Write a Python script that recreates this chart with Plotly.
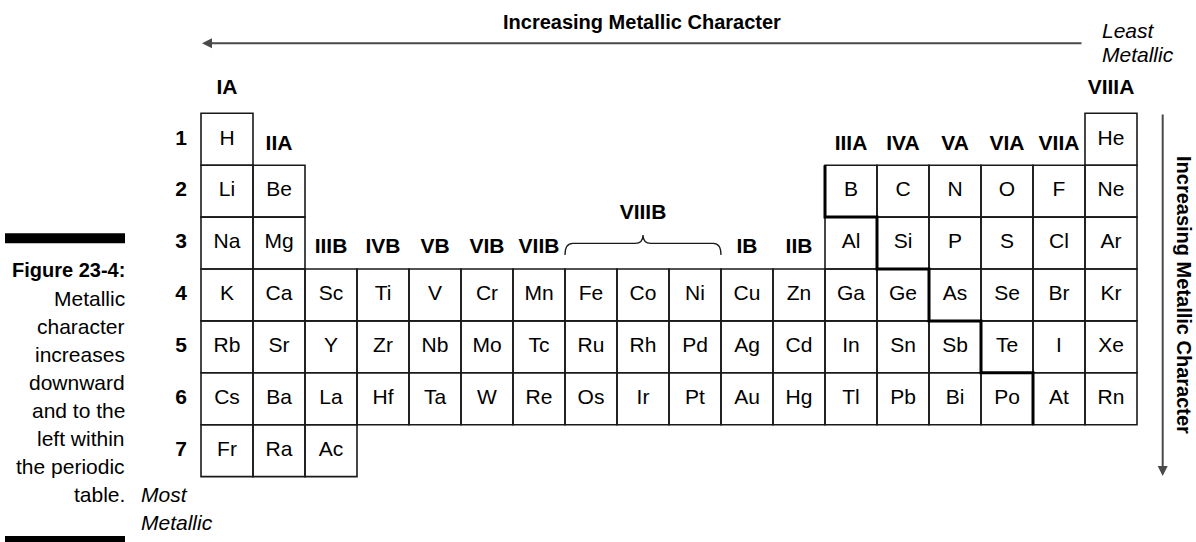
import plotly.graph_objects as go

W, H = 1196, 542
FONT = "Liberation Sans, Arial, sans-serif"

# ---------------- data ----------------
period_symbols = {
    1: ["H", "He"],
    2: ["Li", "Be", "B", "C", "N", "O", "F", "Ne"],
    3: ["Na", "Mg", "Al", "Si", "P", "S", "Cl", "Ar"],
    4: ["K", "Ca", "Sc", "Ti", "V", "Cr", "Mn", "Fe", "Co", "Ni", "Cu", "Zn", "Ga", "Ge", "As", "Se", "Br", "Kr"],
    5: ["Rb", "Sr", "Y", "Zr", "Nb", "Mo", "Tc", "Ru", "Rh", "Pd", "Ag", "Cd", "In", "Sn", "Sb", "Te", "I", "Xe"],
    6: ["Cs", "Ba", "La", "Hf", "Ta", "W", "Re", "Os", "Ir", "Pt", "Au", "Hg", "Tl", "Pb", "Bi", "Po", "At", "Rn"],
    7: ["Fr", "Ra", "Ac"],
}
period_groups = {
    1: [1, 18],
    2: [1, 2, 13, 14, 15, 16, 17, 18],
    3: [1, 2, 13, 14, 15, 16, 17, 18],
    4: list(range(1, 19)),
    5: list(range(1, 19)),
    6: list(range(1, 19)),
    7: [1, 2, 3],
}
row_numbers = ["1", "2", "3", "4", "5", "6", "7"]

group_labels = ["IA", "IIA", "IIIB", "IVB", "VB", "VIB", "VIIB", "IB", "IIB",
                "IIIA", "IVA", "VA", "VIA", "VIIA", "VIIIA"]
group_label_cols = [1, 2, 3, 4, 5, 6, 7, 11, 12, 13, 14, 15, 16, 17, 18]
group_label_rows = [0, 1, 3, 3, 3, 3, 3, 3, 3, 1, 1, 1, 1, 1, 0]

viiib_label = "VIIIB"
viiib_cols = [8, 10]

# metal / nonmetal boundary: first non-metal column in each period
stair_periods = [2, 3, 4, 5, 6]
stair_cols = [13, 14, 15, 16, 17]

title_top = "Increasing Metallic Character"
title_side = "Increasing Metallic Character"
least_lines = ["Least", "Metallic"]
most_lines = ["Most", "Metallic"]
caption_lines = ["Figure 23-4:", "Metallic", "character", "increases", "downward",
                 "and to the", "left within", "the periodic", "table."]

# ---------------- geometry (page pixel <-> axis) ----------------
CW, CH = 52.0, 51.9
X0 = 0.5 - 201 / CW
Y0 = 0.5 - 113.3 / CH

def ux(px):
    return X0 + px / CW

def uy(py):
    return Y0 + py / CH

def pxp(px):
    return px / W

def pyp(py):
    return 1 - py / H

fig = go.Figure()

shapes = []
xs, ys, txt = [], [], []
for p, syms in period_symbols.items():
    for g, s in zip(period_groups[p], syms):
        shapes.append(dict(type="rect", xref="x", yref="y",
                           x0=g - 0.5, x1=g + 0.5, y0=p - 0.5, y1=p + 0.5,
                           line=dict(color="#1a1a1a", width=1.6), layer="below"))
        xs.append(g); ys.append(p); txt.append(s)

fig.add_trace(go.Scatter(x=xs, y=ys, text=txt, mode="text",
                         textfont=dict(family=FONT, size=21, color="black"),
                         hoverinfo="skip"))

# group labels
fig.add_trace(go.Scatter(
    x=group_label_cols,
    y=[r + (0.1 if r > 0 else 0.02) for r in group_label_rows],
    text=["<b>%s</b>" % t for t in group_labels], mode="text",
    textfont=dict(family=FONT, size=21, color="black"), hoverinfo="skip"))

# VIIIB label
cmid = (viiib_cols[0] + viiib_cols[1]) / 2
fig.add_trace(go.Scatter(x=[cmid], y=[2.44], text=["<b>%s</b>" % viiib_label], mode="text",
                         textfont=dict(family=FONT, size=21, color="black"), hoverinfo="skip"))

# row numbers
fig.add_trace(go.Scatter(x=[ux(181)] * len(row_numbers), y=list(range(1, len(row_numbers) + 1)),
                         text=["<b>%s</b>" % r for r in row_numbers], mode="text",
                         textfont=dict(family=FONT, size=21, color="black"), hoverinfo="skip"))

# brace over VIIIB
bx0, bx1 = viiib_cols[0] - 0.5, viiib_cols[1] + 0.5
yb, ym, yt = uy(255), uy(243.3), uy(235)
bm = (bx0 + bx1) / 2
path = (f"M {bx0},{yb} Q {bx0},{ym} {bx0+0.15},{ym} L {bm-0.15},{ym} "
        f"Q {bm},{ym} {bm},{yt} Q {bm},{ym} {bm+0.15},{ym} L {bx1-0.15},{ym} "
        f"Q {bx1},{ym} {bx1},{yb}")
shapes.append(dict(type="path", xref="x", yref="y", path=path,
                   line=dict(color="#1a1a1a", width=1.3)))

# staircase
pts = []
for p, c in zip(stair_periods, stair_cols):
    pts.append((c - 0.5, p - 0.5))
    pts.append((c - 0.5, p + 0.5))
stair_path = "M " + " L ".join(f"{x},{y}" for x, y in pts)
shapes.append(dict(type="path", xref="x", yref="y", path=stair_path,
                   line=dict(color="black", width=3)))

# caption bars
shapes.append(dict(type="rect", xref="paper", yref="paper", x0=pxp(5), x1=pxp(125),
                   y0=pyp(243.3), y1=pyp(233.3), fillcolor="black", line=dict(width=0)))
shapes.append(dict(type="rect", xref="paper", yref="paper", x0=pxp(5), x1=pxp(125),
                   y0=pyp(545), y1=pyp(536), fillcolor="black", line=dict(width=0)))

annotations = []
# top arrow
annotations.append(dict(xref="paper", yref="paper", x=pxp(202), y=pyp(43.3), ax=1083 - 202, ay=0,
                        text="", showarrow=True, arrowhead=2, arrowsize=1, arrowwidth=2,
                        arrowcolor="#4a4a4a", standoff=0))
# right arrow
annotations.append(dict(xref="paper", yref="paper", x=pxp(1162.7), y=pyp(476), ax=0, ay=-(476 - 113),
                        text="", showarrow=True, arrowhead=2, arrowsize=1, arrowwidth=2,
                        arrowcolor="#4a4a4a", standoff=0))
annotations.append(dict(xref="paper", yref="paper", x=pxp(642), y=pyp(21.7), text="<b>%s</b>" % title_top,
                        showarrow=False, font=dict(family=FONT, size=20, color="black"),
                        xanchor="center", yanchor="middle"))
annotations.append(dict(xref="paper", yref="paper", x=pxp(1184), y=pyp(295), text="<b>%s</b>" % title_side,
                        showarrow=False, textangle=90, font=dict(family=FONT, size=20, color="black"),
                        xanchor="center", yanchor="middle"))
for i, t in enumerate(least_lines):
    annotations.append(dict(xref="paper", yref="paper", x=pxp(1100), y=pyp(30 + 25 * i), text="<i>%s</i>" % t,
                            showarrow=False, font=dict(family=FONT, size=21, color="black"),
                            xanchor="left", yanchor="middle"))
cap_y0, cap_dy = 270, 28
for i, t in enumerate(caption_lines):
    tt = "<b>%s</b>" % t if i == 0 else t
    annotations.append(dict(xref="paper", yref="paper", x=pxp(127), y=pyp(cap_y0 + cap_dy * i), text=tt,
                            showarrow=False, font=dict(family=FONT, size=21 if i else 20, color="black"),
                            xanchor="right", yanchor="middle"))
for i, t in enumerate(most_lines):
    annotations.append(dict(xref="paper", yref="paper", x=pxp(139), y=pyp(cap_y0 + cap_dy * (8 + i)),
                            text="<i>%s</i>" % t, showarrow=False,
                            font=dict(family=FONT, size=21, color="black"),
                            xanchor="left", yanchor="middle"))

fig.update_layout(
    width=W, height=H, margin=dict(l=0, r=0, t=0, b=0),
    paper_bgcolor="white", plot_bgcolor="white", showlegend=False,
    xaxis=dict(range=[ux(0), ux(W)], visible=False, fixedrange=True),
    yaxis=dict(range=[uy(H), uy(0)], visible=False, fixedrange=True),
    shapes=shapes, annotations=annotations,
)

fig.write_html("out.html", config={"displayModeBar": False},
               post_script="document.body.style.margin='0';document.body.style.overflow='hidden';")
